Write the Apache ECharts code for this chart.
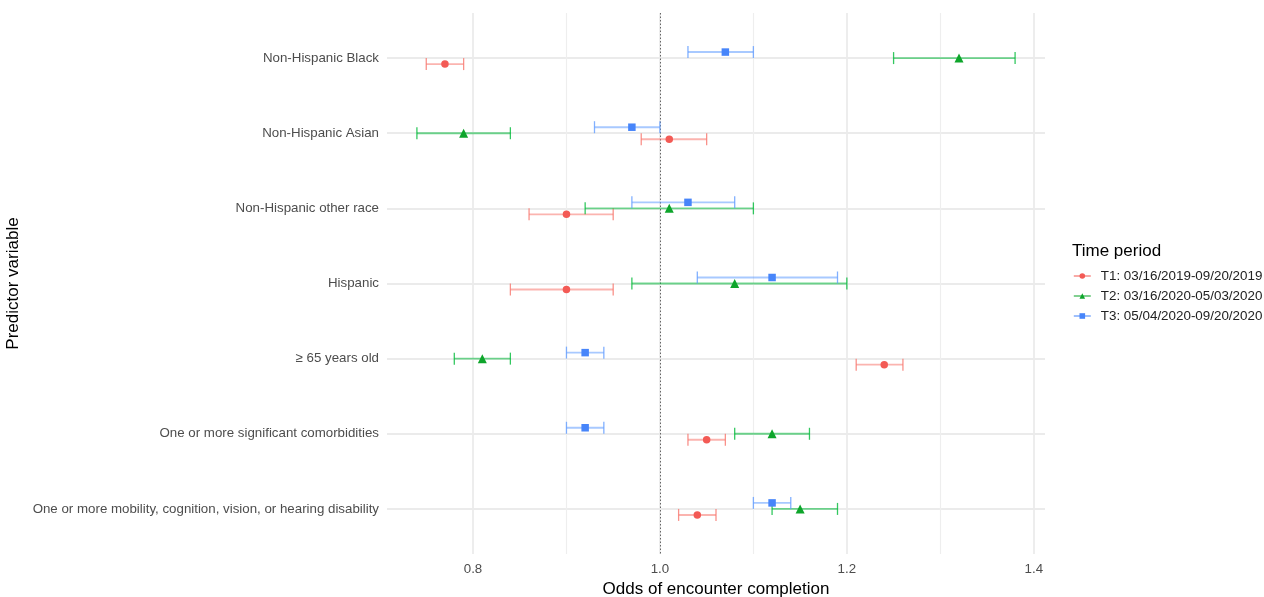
<!DOCTYPE html>
<html>
<head>
<meta charset="utf-8">
<title>Odds of encounter completion by time period</title>
<script src="https://cdn.jsdelivr.net/npm/echarts@6/dist/echarts.min.js"></script>
<style>
  html, body { margin: 0; padding: 0; background: #ffffff; }
  #chart { width: 1264px; height: 597px; }
</style>
</head>
<body>
<div id="chart"></div>
<script>
// Predictor variables, listed top to bottom
const categories = [
  'Non-Hispanic Black',
  'Non-Hispanic Asian',
  'Non-Hispanic other race',
  'Hispanic',
  '\u2265 65 years old',
  'One or more significant comorbidities',
  'One or more mobility, cognition, vision, or hearing disability'
];

const periods = [
  'T1: 03/16/2019-09/20/2019',
  'T2: 03/16/2020-05/03/2020',
  'T3: 05/04/2020-09/20/2020'
];

// Odds ratios with confidence limits, one value per predictor
const t1Estimate = [0.77, 1.01, 0.90, 0.90, 1.24, 1.05, 1.04];
const t1Lower    = [0.75, 0.98, 0.86, 0.84, 1.21, 1.03, 1.02];
const t1Upper    = [0.79, 1.05, 0.95, 0.95, 1.26, 1.07, 1.06];

const t2Estimate = [1.32, 0.79, 1.01, 1.08, 0.81, 1.12, 1.15];
const t2Lower    = [1.25, 0.74, 0.92, 0.97, 0.78, 1.08, 1.12];
const t2Upper    = [1.38, 0.84, 1.10, 1.20, 0.84, 1.16, 1.19];

const t3Estimate = [1.07, 0.97, 1.03, 1.12, 0.92, 0.92, 1.12];
const t3Lower    = [1.03, 0.93, 0.97, 1.04, 0.90, 0.90, 1.10];
const t3Upper    = [1.10, 1.00, 1.08, 1.19, 0.94, 0.94, 1.14];

// Axis ticks
const xTickLabels = [0.8, 1.0, 1.2, 1.4];
const xMinorTicks = [0.9, 1.1, 1.3];
const referenceValue = 1.0;

const FONT = "'Liberation Sans', Arial, Helvetica, sans-serif";

// Styling per period: point colour, bar colour, marker, vertical dodge (in row units)
const periodStyle = [
  { point: '#F35A55', bar: '#F8766D', symbol: 'circle',   size: 7.5, dodge: 0.08 },
  { point: '#0EA52B', bar: '#00BA38', symbol: 'triangle', size: 9,   dodge: 0 },
  { point: '#4785FA', bar: '#619CFF', symbol: 'rect',     size: 7.5, dodge: -0.08 }
];
const estimates = [t1Estimate, t2Estimate, t3Estimate];
const lowers = [t1Lower, t2Lower, t3Lower];
const uppers = [t1Upper, t2Upper, t3Upper];

const rowPositions = categories.map((_, i) => i + 1);

function errorBarRenderer(color) {
  return function (params, api) {
    const y = api.value(2);
    const a = api.coord([api.value(0), y]);
    const b = api.coord([api.value(1), y]);
    const cap = 6;
    const barStyle = { stroke: color, lineWidth: 1.9, opacity: 0.55 };
    const capStyle = { stroke: color, lineWidth: 1.3, opacity: 0.8 };
    return {
      type: 'group',
      children: [
        { type: 'line', shape: { x1: a[0], y1: a[1], x2: b[0], y2: b[1] }, style: barStyle },
        { type: 'line', shape: { x1: a[0], y1: a[1] - cap, x2: a[0], y2: a[1] + cap }, style: capStyle },
        { type: 'line', shape: { x1: b[0], y1: b[1] - cap, x2: b[0], y2: b[1] + cap }, style: capStyle }
      ]
    };
  };
}

const series = [];

// Background grid
series.push({
  type: 'line',
  name: '__grid',
  data: [],
  silent: true,
  z: 1,
  markLine: {
    silent: true,
    z: 1,
    symbol: 'none',
    label: { show: false },
    animation: false,
    data: [].concat(
      rowPositions.map(v => ({ yAxis: v, lineStyle: { color: '#EBEBEB', width: 1.8, type: 'solid' } })),
      xTickLabels.map(v => ({ xAxis: v, lineStyle: { color: '#EBEBEB', width: 1.8, type: 'solid' } })),
      xMinorTicks.map(v => ({ xAxis: v, lineStyle: { color: '#EEEEEE', width: 1.2, type: 'solid' } }))
    )
  }
});

periods.forEach((name, k) => {
  const st = periodStyle[k];
  const pts = estimates[k].map((v, i) => [v, rowPositions[i] + st.dodge]);
  const bars = lowers[k].map((lo, i) => [lo, uppers[k][i], rowPositions[i] + st.dodge]);
  series.push({
    type: 'line',
    name: name,
    data: pts,
    symbol: st.symbol,
    symbolSize: st.size,
    showSymbol: true,
    lineStyle: { width: 0, opacity: 0 },
    itemStyle: { color: st.point, opacity: 1 },
    z: 4,
    animation: false
  });
  series.push({
    type: 'custom',
    name: name,
    data: bars,
    renderItem: errorBarRenderer(st.bar),
    encode: { x: [0, 1], y: 2 },
    itemStyle: { color: st.point },
    z: 3,
    animation: false
  });
});

// Dotted reference line at odds ratio 1
series.push({
  type: 'line',
  name: '__ref',
  data: [],
  silent: true,
  z: 2,
  markLine: {
    silent: true,
    z: 2,
    symbol: 'none',
    label: { show: false },
    animation: false,
    data: [{ xAxis: referenceValue, lineStyle: { color: '#666666', width: 1, type: [1.5, 2] } }]
  }
});

const option = {
  backgroundColor: '#ffffff',
  animation: false,
  textStyle: { fontFamily: FONT },
  grid: { left: 387, right: 219, top: 13, bottom: 43, containLabel: false, outerBoundsMode: 'none' },
  title: {
    text: 'Time period',
    left: 1072,
    top: 243,
    padding: 0,
    textStyle: { fontFamily: FONT, fontSize: 17, fontWeight: 'normal', color: '#000000' }
  },
  legend: {
    data: periods,
    orient: 'vertical',
    left: 1073,
    top: 269,
    padding: 0,
    itemWidth: 17,
    itemHeight: 7,
    itemGap: 6,
    lineStyle: { width: 1.6, opacity: 0.65 },
    textStyle: { fontFamily: FONT, fontSize: 13.4, color: '#222222', lineHeight: 14, padding: [0, 0, 0, 5] }
  },
  xAxis: {
    type: 'value',
    min: 0.708,
    max: 1.412,
    name: 'Odds of encounter completion',
    nameLocation: 'middle',
    nameGap: 25,
    nameTextStyle: { fontFamily: FONT, fontSize: 17, color: '#000000' },
    axisLine: { show: false },
    axisTick: { show: false },
    splitLine: { show: false },
    axisLabel: {
      customValues: xTickLabels,
      formatter: v => Number(v).toFixed(1),
      margin: 9,
      fontFamily: FONT,
      fontSize: 13.3,
      color: '#4D4D4D'
    }
  },
  yAxis: {
    type: 'value',
    min: 0.4,
    max: 7.6,
    inverse: true,
    name: 'Predictor variable',
    nameLocation: 'middle',
    nameRotate: 90,
    nameGap: 356,
    nameTextStyle: { fontFamily: FONT, fontSize: 17, color: '#000000' },
    axisLine: { show: false },
    axisTick: { show: false },
    splitLine: { show: false },
    axisLabel: {
      customValues: rowPositions,
      formatter: v => categories[Math.round(v) - 1] || '',
      margin: 8,
      fontFamily: FONT,
      fontSize: 13.3,
      color: '#4D4D4D'
    }
  },
  series: series
};

const chart = echarts.init(document.getElementById('chart'), null, { renderer: 'canvas' });
chart.setOption(option);
</script>
</body>
</html>
